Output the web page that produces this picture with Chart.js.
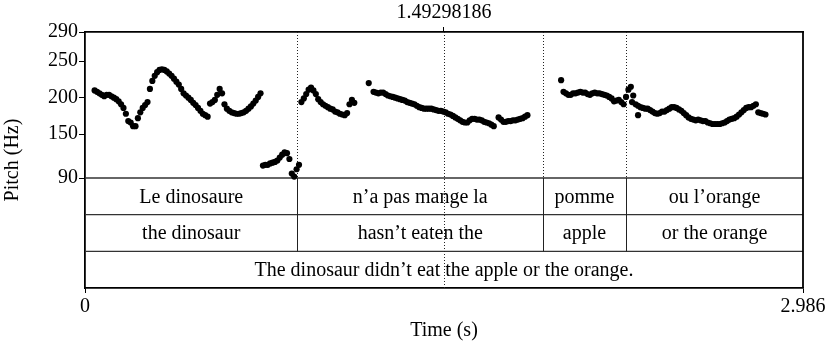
<!DOCTYPE html>
<html><head><meta charset="utf-8">
<script src="https://cdn.jsdelivr.net/npm/chart.js@4.4.1/dist/chart.umd.min.js"></script>
<style>html,body{margin:0;padding:0;background:#fff;} #wrap{width:829px;height:347px;}</style>
</head><body><div id="wrap"><canvas id="c" width="829" height="347"></canvas></div>
<script>
// ---- data ----
const FRAME_STEP = 0.01; // s between pitch frames
const seg1Start = 0.04;
const seg1Hz = [210,208,206,204,202,204,204,202,200,198,195,191,186,178,168,166,161,161,172,180,186,190,194,212,223,230,235,238,239,238,236,233,230,226,222,218,212,206,203,200,197,193,190,186,182,178,176,174];
const seg2Start = 0.52;
const seg2Hz = [192,194,197,204,212,206];
const seg3Start = 0.58;
const seg3Hz = [191,185,182,180,179,178,178,179,180,182,185,188,192,196,201,206];
const seg4Start = 0.74;
const seg4Hz = [107,108,108,110,111,112,114,118,122,125,124,116,96,92,102,108];
const seg5Start = 0.90;
const seg5Hz = [194,199,205,211,214,210,205,198,194,191,189,187,185,184,181,180,178,177,176,179,191,197,193];
const seg6Start = 1.18;
const seg6Hz = [220];
const seg7Start = 1.20;
const seg7Hz = [208,207,206,207,207,205,203,202,201,200,199,198,197,196,194,193,192,191,189,187,186,185,185,185,185,184,183,182,182,181,180,178,177,175,173,171,169,167,166,166,169,171,171,170,170,169,167,166,165,163,161,null,173,170,167,167,168,168,169,169,170,171,172,174,176];
const seg8Start = 1.98;
const seg8Hz = [224];
const seg9Start = 1.99;
const seg9Hz = [208,206,204,204,206,206,207,208,207,207,205,204,206,207,206,206,205,204,203,201,199,195,196,197,194,191];
const seg10Start = 2.25;
const seg10Hz = [201,211,215,203];
const seg11Start = 2.275;
const seg11Hz = [194];
const seg12Start = 2.30;
const seg12Hz = [176];
const seg13Start = 2.29;
const seg13Hz = [191,189,187,186,185,185,183,181,179,178,179,181,181,183,185,187,187,186,184,182,179,176,173,171,170,169,170,169,168,168,166,165,164,164,164,164,165,166,168,170,171,172,174,177,180,183,186,187,187,189,191];
const seg14Start = 2.80;
const seg14Hz = [180,179,178,177];

const totalDuration = 2.986;
const cursorTime = 1.49298186;
const pitchMin = 90, pitchMax = 290;
const yTickValues = [90,150,200,250,290];
const xTickValues = [0, 2.986];
const tierBoundaries = [0.8837, 1.9047, 2.2499];
const tier1Labels = ['Le dinosaure','n\u2019a pas mange la','pomme','ou l\u2019orange'];
const tier2Labels = ['the dinosaur','hasn\u2019t eaten the','apple','or the orange'];
const tier3Labels = ['The dinosaur didn\u2019t eat the apple or the orange.'];

// ---- build ----
const segments = [[seg1Start,seg1Hz],[seg2Start,seg2Hz],[seg3Start,seg3Hz],[seg4Start,seg4Hz],[seg5Start,seg5Hz],[seg6Start,seg6Hz],[seg7Start,seg7Hz],[seg8Start,seg8Hz],[seg9Start,seg9Hz],[seg10Start,seg10Hz],[seg11Start,seg11Hz],[seg12Start,seg12Hz],[seg13Start,seg13Hz],[seg14Start,seg14Hz]];
const pitchPoints = [];
segments.forEach(([s,vals])=>vals.forEach((v,i)=>{ if(v!==null) pitchPoints.push({x: s + i*FRAME_STEP, y: v}); }));

const tierFrac = 110/256; // share of plot height used by the text tiers
const yScaleMin = pitchMin - (pitchMax-pitchMin)*tierFrac/(1-tierFrac);

Chart.defaults.font.family = "'Liberation Serif','Times New Roman',serif";
Chart.defaults.font.size = 20;
Chart.defaults.color = '#000';

function strokeLine(ctx,x1,y1,x2,y2){ctx.beginPath();ctx.moveTo(x1,y1);ctx.lineTo(x2,y2);ctx.stroke();}

const textGridPlugin = {
  id:'textgrid',
  beforeDatasetsDraw(chart){
    const {ctx, chartArea:a, scales} = chart;
    const xs = scales.x, ys = scales.y;
    const yTierTop = ys.getPixelForValue(pitchMin);
    const tierH = (a.bottom - yTierTop)/3;
    ctx.save();
    ctx.lineWidth = 1.3; ctx.strokeStyle = '#333';
    for (let k=0;k<3;k++){ const yy = yTierTop + k*tierH; strokeLine(ctx,a.left,yy,a.right,yy); }
    ctx.lineWidth = 1.8; ctx.strokeStyle = '#000';
    strokeLine(ctx,a.right,a.top,a.right,a.bottom);
    ctx.lineWidth = 1; ctx.strokeStyle = '#222';
    tierBoundaries.forEach(t=>{
      const px = Math.round(xs.getPixelForValue(t))+0.5;
      ctx.setLineDash([1,2]); strokeLine(ctx,px,a.top,px,yTierTop);
      ctx.setLineDash([]); strokeLine(ctx,px,yTierTop,px,yTierTop+2*tierH);
    });
    const cx = Math.round(xs.getPixelForValue(cursorTime))+0.5;
    ctx.setLineDash([1,2]); strokeLine(ctx,cx,a.top,cx,a.bottom); ctx.setLineDash([]);
    ctx.fillStyle = '#000';
    ctx.font = "20px 'Liberation Serif','Times New Roman',serif";
    ctx.textAlign = 'center'; ctx.textBaseline = 'middle';
    const edges = [0, ...tierBoundaries, totalDuration];
    [tier1Labels, tier2Labels].forEach((labels,k)=>{
      labels.forEach((s,i)=>{
        const xm = (xs.getPixelForValue(edges[i]) + xs.getPixelForValue(edges[i+1]))/2;
        ctx.fillText(s, xm, yTierTop + (k+0.5)*tierH + 1);
      });
    });
    ctx.fillText(tier3Labels[0], (xs.getPixelForValue(0)+xs.getPixelForValue(totalDuration))/2, yTierTop + 2.5*tierH + 1);
    ctx.restore();
  }
};

new Chart(document.getElementById('c'), {
  type: 'scatter',
  data: { datasets: [{ data: pitchPoints, pointRadius: 3.1, pointBackgroundColor: '#000', pointBorderWidth: 0, showLine: false }] },
  options: {
    responsive: false, animation: false, events: [],
    layout: { padding: { left: 0, right: 26, top: 0, bottom: 0 } },
    plugins: { legend: { display: false }, tooltip: { enabled: false } },
    scales: {
      x: {
        type: 'linear', position: 'bottom', min: 0, max: totalDuration,
        afterBuildTicks: s => { s.ticks = xTickValues.map(v => ({ value: v })); },
        afterFit: s => { s.height = 59; },
        ticks: { autoSkip: false, maxRotation: 0, padding: 1.5, color: '#000', callback: v => String(v) },
        grid: { drawOnChartArea: false, drawTicks: true, tickLength: 5, color: '#000' },
        border: { display: true, color: '#000', width: 1.8 },
        title: { display: true, text: 'Time (s)', color: '#000', padding: { top: 0, bottom: 4 } }
      },
      xTop: {
        type: 'linear', position: 'top', min: 0, max: totalDuration,
        afterBuildTicks: s => { s.ticks = [{ value: cursorTime }]; },
        afterFit: s => { s.height = 32; },
        ticks: { autoSkip: false, maxRotation: 0, padding: 2.5, color: '#000', callback: v => String(v) },
        grid: { drawOnChartArea: false, drawTicks: true, tickLength: 5, color: '#000' },
        border: { display: true, color: '#000', width: 1.8 }
      },
      y: {
        type: 'linear', position: 'left', min: yScaleMin, max: pitchMax,
        afterBuildTicks: s => { s.ticks = yTickValues.map(v => ({ value: v })); },
        afterFit: s => { s.width = 85; },
        ticks: { autoSkip: false, padding: 1, color: '#000', callback: v => String(v) },
        grid: { drawOnChartArea: false, drawTicks: true, tickLength: 6, color: '#000' },
        border: { display: true, color: '#000', width: 1.8 },
        title: { display: true, text: 'Pitch (Hz)', color: '#000', padding: { top: 1, bottom: 0 } }
      }
    }
  },
  plugins: [textGridPlugin]
});
</script>
</body></html>
